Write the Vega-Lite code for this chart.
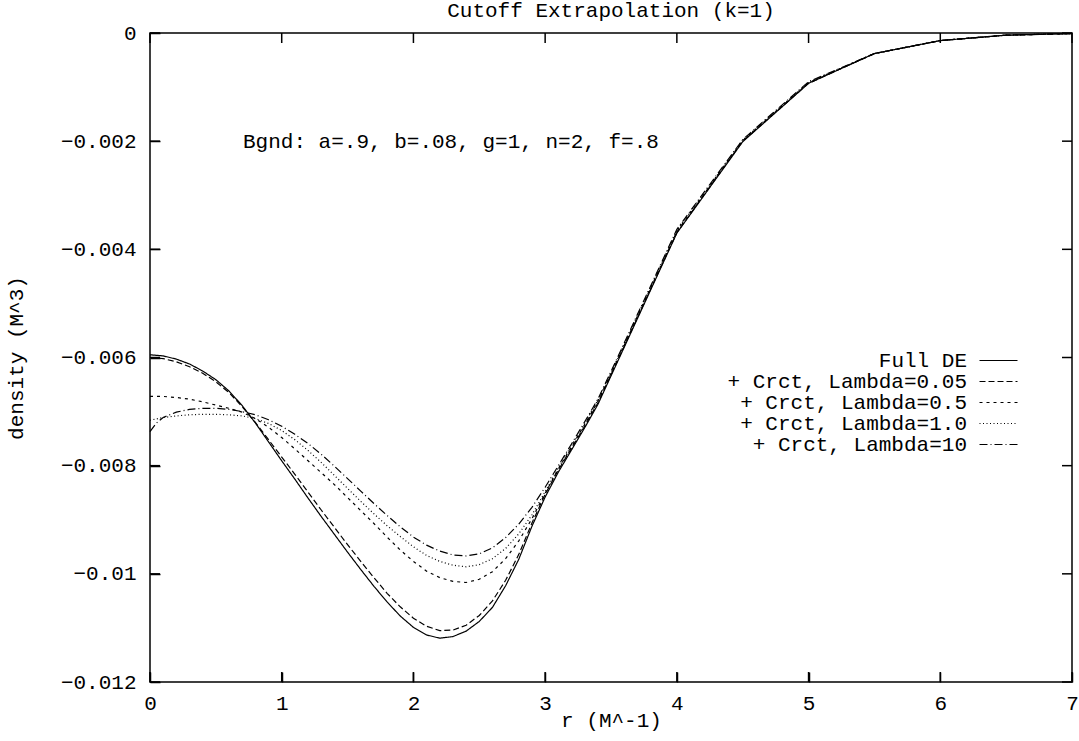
{
  "$schema": "https://vega.github.io/schema/vega-lite/v6.json",
  "width": 922,
  "height": 649,
  "autosize": "none",
  "padding": {"left": 150, "top": 33, "right": 7, "bottom": 59},
  "background": "white",
  "config": {
    "font": "Liberation Mono",
    "view": {"stroke": "black", "strokeWidth": 1.5},
    "axis": {"grid": false, "domain": false, "ticks": true, "tickColor": "black", "tickWidth": 1.5, "tickSize": 10, "offset": -10, "labelColor": "black", "titleColor": "black", "labelFont": "Liberation Mono", "titleFont": "Liberation Mono", "labelFontSize": 21, "titleFontSize": 21, "titleFontWeight": "normal"}
  },
  "title": {"text": "Cutoff Extrapolation (k=1)", "font": "Liberation Mono", "fontSize": 21, "fontWeight": "normal", "color": "black", "anchor": "middle", "offset": 1},
  "data": {"values": [
        {"series": "Full DE", "r": 0.0, "density": -0.00595},
        {"series": "Full DE", "r": 0.1, "density": -0.00597},
        {"series": "Full DE", "r": 0.2, "density": -0.00603},
        {"series": "Full DE", "r": 0.3, "density": -0.00612},
        {"series": "Full DE", "r": 0.4, "density": -0.00625},
        {"series": "Full DE", "r": 0.5, "density": -0.00641},
        {"series": "Full DE", "r": 0.6, "density": -0.00662},
        {"series": "Full DE", "r": 0.7, "density": -0.00689},
        {"series": "Full DE", "r": 0.8, "density": -0.00721},
        {"series": "Full DE", "r": 0.9, "density": -0.00756},
        {"series": "Full DE", "r": 1.0, "density": -0.00791},
        {"series": "Full DE", "r": 1.1, "density": -0.00825},
        {"series": "Full DE", "r": 1.2, "density": -0.00860},
        {"series": "Full DE", "r": 1.3, "density": -0.00894},
        {"series": "Full DE", "r": 1.4, "density": -0.00927},
        {"series": "Full DE", "r": 1.5, "density": -0.00960},
        {"series": "Full DE", "r": 1.6, "density": -0.00992},
        {"series": "Full DE", "r": 1.7, "density": -0.01023},
        {"series": "Full DE", "r": 1.8, "density": -0.01052},
        {"series": "Full DE", "r": 1.9, "density": -0.01078},
        {"series": "Full DE", "r": 2.0, "density": -0.01099},
        {"series": "Full DE", "r": 2.1, "density": -0.01113},
        {"series": "Full DE", "r": 2.2, "density": -0.01119},
        {"series": "Full DE", "r": 2.3, "density": -0.01116},
        {"series": "Full DE", "r": 2.4, "density": -0.01106},
        {"series": "Full DE", "r": 2.5, "density": -0.01088},
        {"series": "Full DE", "r": 2.6, "density": -0.01062},
        {"series": "Full DE", "r": 2.7, "density": -0.01022},
        {"series": "Full DE", "r": 2.8, "density": -0.00973},
        {"series": "Full DE", "r": 2.9, "density": -0.00912},
        {"series": "Full DE", "r": 3.0, "density": -0.00858},
        {"series": "Full DE", "r": 3.1, "density": -0.00812},
        {"series": "Full DE", "r": 3.2, "density": -0.00771},
        {"series": "Full DE", "r": 3.3, "density": -0.00730},
        {"series": "Full DE", "r": 3.4, "density": -0.00687},
        {"series": "Full DE", "r": 3.5, "density": -0.00634},
        {"series": "Full DE", "r": 4.0, "density": -0.00370},
        {"series": "Full DE", "r": 4.5, "density": -0.00201},
        {"series": "Full DE", "r": 5.0, "density": -0.00093},
        {"series": "Full DE", "r": 5.5, "density": -0.00038},
        {"series": "Full DE", "r": 6.0, "density": -0.00014},
        {"series": "Full DE", "r": 6.5, "density": -0.00004},
        {"series": "Full DE", "r": 7.0, "density": -0.00001},

        {"series": "+ Crct, Lambda=0.05", "r": 0.0, "density": -0.00600},
        {"series": "+ Crct, Lambda=0.05", "r": 0.1, "density": -0.00602},
        {"series": "+ Crct, Lambda=0.05", "r": 0.2, "density": -0.00608},
        {"series": "+ Crct, Lambda=0.05", "r": 0.3, "density": -0.00617},
        {"series": "+ Crct, Lambda=0.05", "r": 0.4, "density": -0.00629},
        {"series": "+ Crct, Lambda=0.05", "r": 0.5, "density": -0.00645},
        {"series": "+ Crct, Lambda=0.05", "r": 0.6, "density": -0.00665},
        {"series": "+ Crct, Lambda=0.05", "r": 0.7, "density": -0.00691},
        {"series": "+ Crct, Lambda=0.05", "r": 0.8, "density": -0.00720},
        {"series": "+ Crct, Lambda=0.05", "r": 0.9, "density": -0.00752},
        {"series": "+ Crct, Lambda=0.05", "r": 1.0, "density": -0.00784},
        {"series": "+ Crct, Lambda=0.05", "r": 1.1, "density": -0.00816},
        {"series": "+ Crct, Lambda=0.05", "r": 1.2, "density": -0.00849},
        {"series": "+ Crct, Lambda=0.05", "r": 1.3, "density": -0.00882},
        {"series": "+ Crct, Lambda=0.05", "r": 1.4, "density": -0.00914},
        {"series": "+ Crct, Lambda=0.05", "r": 1.5, "density": -0.00946},
        {"series": "+ Crct, Lambda=0.05", "r": 1.6, "density": -0.00977},
        {"series": "+ Crct, Lambda=0.05", "r": 1.7, "density": -0.01007},
        {"series": "+ Crct, Lambda=0.05", "r": 1.8, "density": -0.01036},
        {"series": "+ Crct, Lambda=0.05", "r": 1.9, "density": -0.01061},
        {"series": "+ Crct, Lambda=0.05", "r": 2.0, "density": -0.01082},
        {"series": "+ Crct, Lambda=0.05", "r": 2.1, "density": -0.01097},
        {"series": "+ Crct, Lambda=0.05", "r": 2.2, "density": -0.01105},
        {"series": "+ Crct, Lambda=0.05", "r": 2.3, "density": -0.01104},
        {"series": "+ Crct, Lambda=0.05", "r": 2.4, "density": -0.01095},
        {"series": "+ Crct, Lambda=0.05", "r": 2.5, "density": -0.01077},
        {"series": "+ Crct, Lambda=0.05", "r": 2.6, "density": -0.01050},
        {"series": "+ Crct, Lambda=0.05", "r": 2.7, "density": -0.01012},
        {"series": "+ Crct, Lambda=0.05", "r": 2.8, "density": -0.00964},
        {"series": "+ Crct, Lambda=0.05", "r": 2.9, "density": -0.00906},
        {"series": "+ Crct, Lambda=0.05", "r": 3.0, "density": -0.00853},
        {"series": "+ Crct, Lambda=0.05", "r": 3.1, "density": -0.00808},
        {"series": "+ Crct, Lambda=0.05", "r": 3.2, "density": -0.00768},
        {"series": "+ Crct, Lambda=0.05", "r": 3.3, "density": -0.00727},
        {"series": "+ Crct, Lambda=0.05", "r": 3.4, "density": -0.00684},
        {"series": "+ Crct, Lambda=0.05", "r": 3.5, "density": -0.00632},
        {"series": "+ Crct, Lambda=0.05", "r": 4.0, "density": -0.00369},
        {"series": "+ Crct, Lambda=0.05", "r": 4.5, "density": -0.00200},
        {"series": "+ Crct, Lambda=0.05", "r": 5.0, "density": -0.00093},
        {"series": "+ Crct, Lambda=0.05", "r": 5.5, "density": -0.00038},
        {"series": "+ Crct, Lambda=0.05", "r": 6.0, "density": -0.00014},
        {"series": "+ Crct, Lambda=0.05", "r": 6.5, "density": -0.00004},
        {"series": "+ Crct, Lambda=0.05", "r": 7.0, "density": -0.00001},

        {"series": "+ Crct, Lambda=0.5", "r": 0.0, "density": -0.00672},
        {"series": "+ Crct, Lambda=0.5", "r": 0.1, "density": -0.00672},
        {"series": "+ Crct, Lambda=0.5", "r": 0.2, "density": -0.00674},
        {"series": "+ Crct, Lambda=0.5", "r": 0.3, "density": -0.00677},
        {"series": "+ Crct, Lambda=0.5", "r": 0.4, "density": -0.00682},
        {"series": "+ Crct, Lambda=0.5", "r": 0.5, "density": -0.00688},
        {"series": "+ Crct, Lambda=0.5", "r": 0.6, "density": -0.00694},
        {"series": "+ Crct, Lambda=0.5", "r": 0.7, "density": -0.00701},
        {"series": "+ Crct, Lambda=0.5", "r": 0.8, "density": -0.00713},
        {"series": "+ Crct, Lambda=0.5", "r": 0.9, "density": -0.00729},
        {"series": "+ Crct, Lambda=0.5", "r": 1.0, "density": -0.00748},
        {"series": "+ Crct, Lambda=0.5", "r": 1.1, "density": -0.00769},
        {"series": "+ Crct, Lambda=0.5", "r": 1.2, "density": -0.00791},
        {"series": "+ Crct, Lambda=0.5", "r": 1.3, "density": -0.00813},
        {"series": "+ Crct, Lambda=0.5", "r": 1.4, "density": -0.00835},
        {"series": "+ Crct, Lambda=0.5", "r": 1.5, "density": -0.00859},
        {"series": "+ Crct, Lambda=0.5", "r": 1.6, "density": -0.00883},
        {"series": "+ Crct, Lambda=0.5", "r": 1.7, "density": -0.00907},
        {"series": "+ Crct, Lambda=0.5", "r": 1.8, "density": -0.00932},
        {"series": "+ Crct, Lambda=0.5", "r": 1.9, "density": -0.00956},
        {"series": "+ Crct, Lambda=0.5", "r": 2.0, "density": -0.00977},
        {"series": "+ Crct, Lambda=0.5", "r": 2.1, "density": -0.00995},
        {"series": "+ Crct, Lambda=0.5", "r": 2.2, "density": -0.01007},
        {"series": "+ Crct, Lambda=0.5", "r": 2.3, "density": -0.01014},
        {"series": "+ Crct, Lambda=0.5", "r": 2.4, "density": -0.01016},
        {"series": "+ Crct, Lambda=0.5", "r": 2.5, "density": -0.01010},
        {"series": "+ Crct, Lambda=0.5", "r": 2.6, "density": -0.00996},
        {"series": "+ Crct, Lambda=0.5", "r": 2.7, "density": -0.00972},
        {"series": "+ Crct, Lambda=0.5", "r": 2.8, "density": -0.00939},
        {"series": "+ Crct, Lambda=0.5", "r": 2.9, "density": -0.00898},
        {"series": "+ Crct, Lambda=0.5", "r": 3.0, "density": -0.00851},
        {"series": "+ Crct, Lambda=0.5", "r": 3.1, "density": -0.00806},
        {"series": "+ Crct, Lambda=0.5", "r": 3.2, "density": -0.00765},
        {"series": "+ Crct, Lambda=0.5", "r": 3.3, "density": -0.00724},
        {"series": "+ Crct, Lambda=0.5", "r": 3.4, "density": -0.00681},
        {"series": "+ Crct, Lambda=0.5", "r": 3.5, "density": -0.00630},
        {"series": "+ Crct, Lambda=0.5", "r": 4.0, "density": -0.00367},
        {"series": "+ Crct, Lambda=0.5", "r": 4.5, "density": -0.00199},
        {"series": "+ Crct, Lambda=0.5", "r": 5.0, "density": -0.00092},
        {"series": "+ Crct, Lambda=0.5", "r": 5.5, "density": -0.00038},
        {"series": "+ Crct, Lambda=0.5", "r": 6.0, "density": -0.00014},
        {"series": "+ Crct, Lambda=0.5", "r": 6.5, "density": -0.00004},
        {"series": "+ Crct, Lambda=0.5", "r": 7.0, "density": -0.00001},

        {"series": "+ Crct, Lambda=1.0", "r": 0.0, "density": -0.00716},
        {"series": "+ Crct, Lambda=1.0", "r": 0.1, "density": -0.00711},
        {"series": "+ Crct, Lambda=1.0", "r": 0.2, "density": -0.00708},
        {"series": "+ Crct, Lambda=1.0", "r": 0.3, "density": -0.00706},
        {"series": "+ Crct, Lambda=1.0", "r": 0.4, "density": -0.00705},
        {"series": "+ Crct, Lambda=1.0", "r": 0.5, "density": -0.00705},
        {"series": "+ Crct, Lambda=1.0", "r": 0.6, "density": -0.00706},
        {"series": "+ Crct, Lambda=1.0", "r": 0.7, "density": -0.00708},
        {"series": "+ Crct, Lambda=1.0", "r": 0.8, "density": -0.00713},
        {"series": "+ Crct, Lambda=1.0", "r": 0.9, "density": -0.00722},
        {"series": "+ Crct, Lambda=1.0", "r": 1.0, "density": -0.00735},
        {"series": "+ Crct, Lambda=1.0", "r": 1.1, "density": -0.00752},
        {"series": "+ Crct, Lambda=1.0", "r": 1.2, "density": -0.00772},
        {"series": "+ Crct, Lambda=1.0", "r": 1.3, "density": -0.00794},
        {"series": "+ Crct, Lambda=1.0", "r": 1.4, "density": -0.00818},
        {"series": "+ Crct, Lambda=1.0", "r": 1.5, "density": -0.00842},
        {"series": "+ Crct, Lambda=1.0", "r": 1.6, "density": -0.00866},
        {"series": "+ Crct, Lambda=1.0", "r": 1.7, "density": -0.00889},
        {"series": "+ Crct, Lambda=1.0", "r": 1.8, "density": -0.00911},
        {"series": "+ Crct, Lambda=1.0", "r": 1.9, "density": -0.00931},
        {"series": "+ Crct, Lambda=1.0", "r": 2.0, "density": -0.00950},
        {"series": "+ Crct, Lambda=1.0", "r": 2.1, "density": -0.00966},
        {"series": "+ Crct, Lambda=1.0", "r": 2.2, "density": -0.00977},
        {"series": "+ Crct, Lambda=1.0", "r": 2.3, "density": -0.00984},
        {"series": "+ Crct, Lambda=1.0", "r": 2.4, "density": -0.00987},
        {"series": "+ Crct, Lambda=1.0", "r": 2.5, "density": -0.00983},
        {"series": "+ Crct, Lambda=1.0", "r": 2.6, "density": -0.00972},
        {"series": "+ Crct, Lambda=1.0", "r": 2.7, "density": -0.00953},
        {"series": "+ Crct, Lambda=1.0", "r": 2.8, "density": -0.00926},
        {"series": "+ Crct, Lambda=1.0", "r": 2.9, "density": -0.00891},
        {"series": "+ Crct, Lambda=1.0", "r": 3.0, "density": -0.00848},
        {"series": "+ Crct, Lambda=1.0", "r": 3.1, "density": -0.00804},
        {"series": "+ Crct, Lambda=1.0", "r": 3.2, "density": -0.00763},
        {"series": "+ Crct, Lambda=1.0", "r": 3.3, "density": -0.00722},
        {"series": "+ Crct, Lambda=1.0", "r": 3.4, "density": -0.00679},
        {"series": "+ Crct, Lambda=1.0", "r": 3.5, "density": -0.00628},
        {"series": "+ Crct, Lambda=1.0", "r": 4.0, "density": -0.00365},
        {"series": "+ Crct, Lambda=1.0", "r": 4.5, "density": -0.00198},
        {"series": "+ Crct, Lambda=1.0", "r": 5.0, "density": -0.00091},
        {"series": "+ Crct, Lambda=1.0", "r": 5.5, "density": -0.00038},
        {"series": "+ Crct, Lambda=1.0", "r": 6.0, "density": -0.00014},
        {"series": "+ Crct, Lambda=1.0", "r": 6.5, "density": -0.00004},
        {"series": "+ Crct, Lambda=1.0", "r": 7.0, "density": -0.00001},

        {"series": "+ Crct, Lambda=10", "r": 0.0, "density": -0.00737},
        {"series": "+ Crct, Lambda=10", "r": 0.05, "density": -0.00721},
        {"series": "+ Crct, Lambda=10", "r": 0.1, "density": -0.00711},
        {"series": "+ Crct, Lambda=10", "r": 0.2, "density": -0.00701},
        {"series": "+ Crct, Lambda=10", "r": 0.3, "density": -0.00696},
        {"series": "+ Crct, Lambda=10", "r": 0.4, "density": -0.00694},
        {"series": "+ Crct, Lambda=10", "r": 0.5, "density": -0.00694},
        {"series": "+ Crct, Lambda=10", "r": 0.6, "density": -0.00696},
        {"series": "+ Crct, Lambda=10", "r": 0.7, "density": -0.00700},
        {"series": "+ Crct, Lambda=10", "r": 0.8, "density": -0.00706},
        {"series": "+ Crct, Lambda=10", "r": 0.9, "density": -0.00715},
        {"series": "+ Crct, Lambda=10", "r": 1.0, "density": -0.00727},
        {"series": "+ Crct, Lambda=10", "r": 1.1, "density": -0.00742},
        {"series": "+ Crct, Lambda=10", "r": 1.2, "density": -0.00759},
        {"series": "+ Crct, Lambda=10", "r": 1.3, "density": -0.00779},
        {"series": "+ Crct, Lambda=10", "r": 1.4, "density": -0.00801},
        {"series": "+ Crct, Lambda=10", "r": 1.5, "density": -0.00824},
        {"series": "+ Crct, Lambda=10", "r": 1.6, "density": -0.00847},
        {"series": "+ Crct, Lambda=10", "r": 1.7, "density": -0.00870},
        {"series": "+ Crct, Lambda=10", "r": 1.8, "density": -0.00892},
        {"series": "+ Crct, Lambda=10", "r": 1.9, "density": -0.00913},
        {"series": "+ Crct, Lambda=10", "r": 2.0, "density": -0.00932},
        {"series": "+ Crct, Lambda=10", "r": 2.1, "density": -0.00947},
        {"series": "+ Crct, Lambda=10", "r": 2.2, "density": -0.00958},
        {"series": "+ Crct, Lambda=10", "r": 2.3, "density": -0.00965},
        {"series": "+ Crct, Lambda=10", "r": 2.4, "density": -0.00967},
        {"series": "+ Crct, Lambda=10", "r": 2.5, "density": -0.00963},
        {"series": "+ Crct, Lambda=10", "r": 2.6, "density": -0.00952},
        {"series": "+ Crct, Lambda=10", "r": 2.7, "density": -0.00933},
        {"series": "+ Crct, Lambda=10", "r": 2.8, "density": -0.00908},
        {"series": "+ Crct, Lambda=10", "r": 2.9, "density": -0.00877},
        {"series": "+ Crct, Lambda=10", "r": 3.0, "density": -0.00840},
        {"series": "+ Crct, Lambda=10", "r": 3.1, "density": -0.00800},
        {"series": "+ Crct, Lambda=10", "r": 3.2, "density": -0.00760},
        {"series": "+ Crct, Lambda=10", "r": 3.3, "density": -0.00719},
        {"series": "+ Crct, Lambda=10", "r": 3.4, "density": -0.00677},
        {"series": "+ Crct, Lambda=10", "r": 3.5, "density": -0.00626},
        {"series": "+ Crct, Lambda=10", "r": 4.0, "density": -0.00363},
        {"series": "+ Crct, Lambda=10", "r": 4.5, "density": -0.00197},
        {"series": "+ Crct, Lambda=10", "r": 5.0, "density": -0.00090},
        {"series": "+ Crct, Lambda=10", "r": 5.5, "density": -0.00038},
        {"series": "+ Crct, Lambda=10", "r": 6.0, "density": -0.00014},
        {"series": "+ Crct, Lambda=10", "r": 6.5, "density": -0.00004},
        {"series": "+ Crct, Lambda=10", "r": 7.0, "density": -0.00001}
  ]},
  "layer": [
    {
      "mark": {"type": "line", "color": "black", "strokeWidth": 1.2},
      "encoding": {
        "x": {"field": "r", "type": "quantitative", "scale": {"domain": [0, 7], "nice": false, "zero": false},
              "axis": {"orient": "bottom", "values": [0, 1, 2, 3, 4, 5, 6, 7], "offset": -10, "tickSize": 10, "labelPadding": 10, "title": "r (M^-1)", "titlePadding": -4, "labelFlush": false}},
        "y": {"field": "density", "type": "quantitative", "scale": {"domain": [-0.012, 0], "nice": false, "zero": false},
              "axis": {"orient": "left", "values": [-0.012, -0.01, -0.008, -0.006, -0.004, -0.002, 0], "format": ".3~f", "offset": -10, "tickSize": 10, "labelPadding": 14, "title": "density (M^3)", "titlePadding": 34, "labelFlush": false}},
        "strokeDash": {"field": "series", "type": "nominal",
          "scale": {"domain": ["Full DE", "+ Crct, Lambda=0.05", "+ Crct, Lambda=0.5", "+ Crct, Lambda=1.0", "+ Crct, Lambda=10"],
                    "range": [[1, 0], [6, 3], [3, 4], [1, 2.5], [8, 3, 1, 3]]},
          "legend": {"orient": "none", "legendX": 819, "legendY": 317, "title": null, "padding": 0,
                     "labelFont": "Liberation Mono", "labelFontSize": 21, "labelColor": "black", "labelAlign": "right", "labelOffset": -42, "labelLimit": 500,
                     "labelExpr": "pad(datum.label, 19, '\u00a0', 'left')",
                     "symbolType": "M-19,0H19", "symbolSize": 4, "symbolOffset": 19, "symbolStrokeWidth": 1.2, "symbolStrokeColor": "black", "symbolFillColor": "transparent",
                     "rowPadding": -1.3}}
      }
    },
    {
      "data": {"values": [{"t": 0}, {"t": 1}, {"t": 2}, {"t": 3}, {"t": 4}, {"t": 5}, {"t": 6}, {"t": 7}]},
      "layer": [
        {
          "mark": {"type": "rule", "color": "black", "strokeWidth": 1.5},
          "encoding": {
            "x": {"field": "t", "type": "quantitative", "axis": null},
            "y": {"datum": -0.012, "type": "quantitative", "axis": null},
            "y2": {"datum": -0.011815}
          }
        },
        {
          "mark": {"type": "rule", "color": "black", "strokeWidth": 1.5},
          "encoding": {
            "x": {"field": "t", "type": "quantitative", "axis": null},
            "y": {"datum": 0, "type": "quantitative", "axis": null},
            "y2": {"datum": -0.000185}
          }
        }
      ]
    },
    {
      "data": {"values": [{"t": -0.012}, {"t": -0.01}, {"t": -0.008}, {"t": -0.006}, {"t": -0.004}, {"t": -0.002}, {"t": 0}]},
      "layer": [
        {
          "mark": {"type": "rule", "color": "black", "strokeWidth": 1.5},
          "encoding": {
            "y": {"field": "t", "type": "quantitative", "axis": null},
            "x": {"datum": 0, "type": "quantitative", "axis": null},
            "x2": {"datum": 0.076}
          }
        },
        {
          "mark": {"type": "rule", "color": "black", "strokeWidth": 1.5},
          "encoding": {
            "y": {"field": "t", "type": "quantitative", "axis": null},
            "x": {"datum": 7, "type": "quantitative", "axis": null},
            "x2": {"datum": 6.924}
          }
        }
      ]
    },
    {
      "data": {"values": [{}]},
      "mark": {"type": "text", "align": "left", "baseline": "middle", "font": "Liberation Mono", "fontSize": 21, "color": "black"},
      "encoding": {
        "x": {"datum": 0.706, "type": "quantitative", "axis": null},
        "y": {"datum": -0.00201, "type": "quantitative", "axis": null},
        "text": {"value": "Bgnd: a=.9, b=.08, g=1, n=2, f=.8"}
      }
    }
  ],
  "resolve": {"axis": {"x": "independent", "y": "independent"}}
}
